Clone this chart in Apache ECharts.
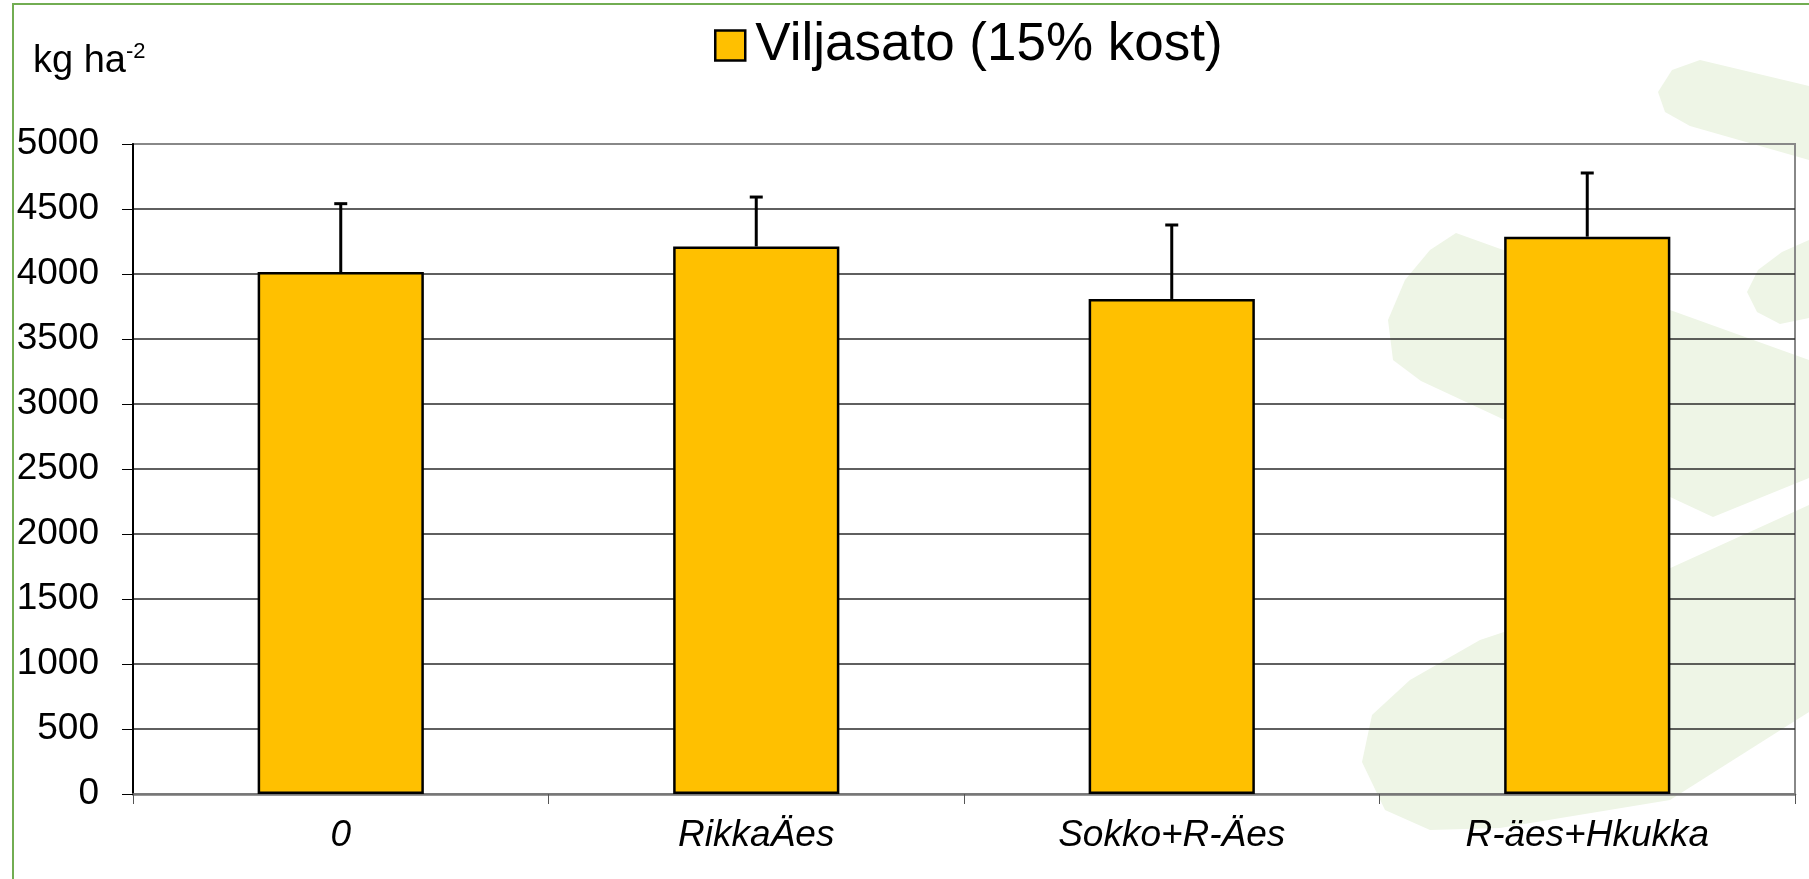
<!DOCTYPE html>
<html lang="fi">
<head>
    <meta charset="UTF-8">
    <title>Viljasato</title>
    <script src="https://cdn.jsdelivr.net/npm/echarts@6/dist/echarts.min.js"></script>
    <style>
        html, body { margin: 0; padding: 0; background: #fff; }
        #chart { width: 1809px; height: 879px; }
    </style>
</head>
<body>
    <div id="chart"></div>
    <script>
        // data
        var categories = ['0', 'RikkaÄes', 'Sokko+R-Äes', 'R-äes+Hkukka'];
        var yieldValues = [4015, 4212, 3808, 4287];
        var errorValues = [526, 380, 569, 490];
        var yTicks = { min: 0, max: 5000, interval: 500 };
        var seriesName = 'Viljasato (15% kost)';

        var FONT = '"Liberation Sans", Arial, sans-serif';

        // error bar data: [index, value, value + error]
        var errData = [];
        for (var i = 0; i < categories.length; i++) {
            errData.push([i, yieldValues[i], yieldValues[i] + errorValues[i]]);
        }

        // light green logo swooshes in the background (decoration only)
        var swooshColor = '#eef5e6';
        var swooshes = [
            [[1700, 60], [1809, 86], [1809, 160], [1690, 126], [1665, 112], [1658, 92], [1672, 70]],
            [[1456, 233], [1809, 360], [1809, 478], [1713, 517], [1421, 381], [1393, 360], [1388, 320], [1405, 280], [1430, 250]],
            [[1809, 240], [1809, 318], [1780, 324], [1757, 312], [1747, 292], [1758, 270], [1782, 252]],
            [[1362, 762], [1372, 715], [1410, 680], [1480, 640], [1600, 600], [1809, 505], [1809, 712], [1670, 800], [1500, 828], [1430, 830], [1385, 810]]
        ];
        var bgElements = swooshes.map(function (pts) {
            return { type: 'polygon', z: -10, silent: true, shape: { points: pts }, style: { fill: swooshColor } };
        });
        bgElements.push({
            type: 'rect', z: -5, silent: true,
            shape: { x: 13, y: 4, width: 1830, height: 900 },
            style: { fill: 'none', stroke: '#72ad52', lineWidth: 2 }
        });
        bgElements.push({
            type: 'text', left: 33, top: 41, z: 5,
            style: {
                text: '{a|kg ha}{b|-2}',
                rich: {
                    a: { fontSize: 38, fontFamily: FONT, fill: '#000', lineHeight: 42 },
                    b: { fontSize: 22, fontFamily: FONT, fill: '#000', lineHeight: 32, verticalAlign: 'top' }
                }
            }
        });

        var gridColors = ['#888'];
        for (var k = 0; k < 9; k++) gridColors.push('#2a2a2a');
        gridColors.push('#888');

        var myChart = echarts.init(document.getElementById('chart'));
        var option = {
            animation: false,
            backgroundColor: '#fff',
            graphic: { elements: bgElements },
            legend: {
                data: [seriesName],
                left: 714,
                top: 19,
                padding: 0,
                itemWidth: 30,
                itemHeight: 30,
                icon: 'rect',
                itemStyle: { color: '#FFC000', borderColor: '#000', borderWidth: 2.5 },
                textStyle: { fontSize: 53, fontFamily: FONT, color: '#000', padding: [0, 0, 0, 5] }
            },
            grid: {
                left: 133,
                right: 14,
                top: 144,
                bottom: 85,
                show: true,
                backgroundColor: 'transparent',
                borderColor: '#888',
                borderWidth: 2
            },
            xAxis: {
                type: 'category',
                data: categories,
                axisLine: { lineStyle: { color: '#777', width: 2.5 } },
                axisTick: { show: true, length: 10, lineStyle: { color: '#555', width: 1 } },
                axisLabel: {
                    fontSize: 37, fontStyle: 'italic', fontFamily: FONT, color: '#000', margin: 23
                }
            },
            yAxis: {
                type: 'value',
                min: yTicks.min,
                max: yTicks.max,
                interval: yTicks.interval,
                axisLine: { show: true, lineStyle: { color: '#000', width: 2 } },
                axisTick: { show: true, length: 11, lineStyle: { color: '#000', width: 1 } },
                axisLabel: {
                    fontSize: 37, fontFamily: FONT, color: '#000', margin: 34,
                    formatter: function (v) { return String(v); }
                },
                splitLine: { show: true, lineStyle: { color: gridColors, width: 1.5 } }
            },
            series: [
                {
                    name: seriesName,
                    type: 'bar',
                    data: yieldValues,
                    barWidth: '40%',
                    itemStyle: { color: '#FFC000', borderColor: '#000', borderWidth: 2.5 }
                },
                {
                    name: 'err',
                    type: 'custom',
                    data: errData,
                    encode: { x: 0, y: [1, 2] },
                    z: 3,
                    renderItem: function (params, api) {
                        var base = api.coord([api.value(0), api.value(1)]);
                        var top = api.coord([api.value(0), api.value(2)]);
                        return {
                            type: 'group',
                            children: [
                                {
                                    type: 'line',
                                    shape: { x1: base[0], y1: base[1], x2: base[0], y2: top[1] },
                                    style: { stroke: '#000', lineWidth: 3 }
                                },
                                {
                                    type: 'line',
                                    shape: { x1: base[0] - 6.5, y1: top[1], x2: base[0] + 6.5, y2: top[1] },
                                    style: { stroke: '#000', lineWidth: 3 }
                                }
                            ]
                        };
                    }
                }
            ]
        };
        myChart.setOption(option);
    </script>
</body>
</html>
